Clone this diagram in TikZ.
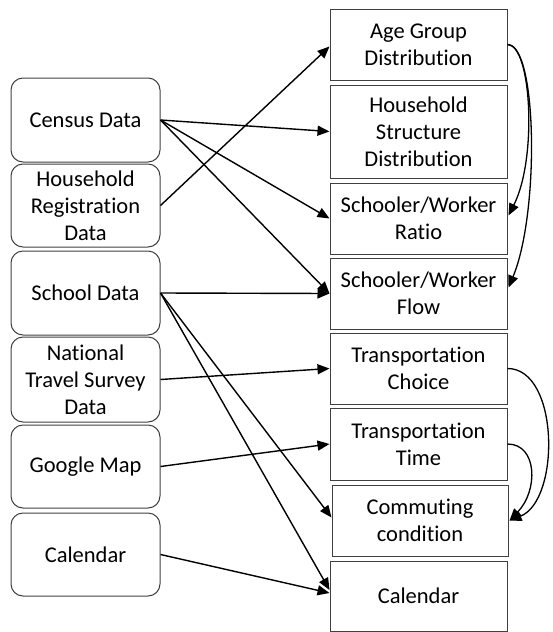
\documentclass[tikz,border=0pt]{standalone}
\usepackage{fontspec}
\setmainfont[Ligatures=NoCommon]{Carlito}
\usetikzlibrary{arrows.meta,calc}
\begin{document}
\begin{tikzpicture}[x=1pt,y=-1pt,
  every node/.style={font=\fontsize{22.5}{27}\selectfont, align=center, inner sep=0pt},
  srcbox/.style={draw=black!75, line width=1pt, rounded corners=12pt, minimum width=149pt},
  tgtbox/.style={draw=black!75, line width=1pt, minimum width=177pt},
  arr/.style={-{Triangle[length=12pt,width=10pt]}, line width=1.4pt, black},
  carr/.style={-{Triangle[length=12pt,width=10pt]}, line width=1.3pt, black}]
\useasboundingbox (0,0) rectangle (553,632);
% left sources
\node[srcbox, minimum height=84pt] (census) at (85.5,120) {Census Data};
\node[srcbox, minimum height=83pt] (hreg) at (85.5,205.5) {Household\\Registration\\Data};
\node[srcbox, minimum height=84pt] (school) at (85.5,293) {School Data};
\node[srcbox, minimum height=85pt] (nts) at (85.5,379.5) {National\\Travel Survey\\Data};
\node[srcbox, minimum height=83pt] (google) at (85.5,466.5) {Google Map};
\node[srcbox, minimum height=83pt] (calL) at (85.5,554.5) {Calendar};
% right targets
\node[tgtbox, minimum height=71pt] (age) at (418.5,44.5) {Age Group\\Distribution};
\node[tgtbox, minimum height=93pt] (hstruct) at (418.5,131.5) {Household\\Structure\\Distribution};
\node[tgtbox, minimum height=71pt] (ratio) at (418.5,218.5) {Schooler/Worker\\Ratio};
\node[tgtbox, minimum height=71pt] (flow) at (418.5,293.5) {Schooler/Worker\\Flow};
\node[tgtbox, minimum height=71pt] (choice) at (418.5,368.5) {Transportation\\Choice};
\node[tgtbox, minimum height=72pt] (ttime) at (418.5,444) {Transportation\\Time};
\node[tgtbox, minimum height=71pt, minimum width=176pt] (commute) at (420,520.5) {Commuting\\condition};
\node[tgtbox, minimum height=70pt] (calR) at (418.5,596) {Calendar};
% straight connectors
\draw[arr] (census.east) -- (hstruct.west);
\draw[arr] (census.east) -- (ratio.west);
\draw[arr] (census.east) -- (flow.west);
\draw[arr] (hreg.east) -- ($(age.west)+(0,2)$);
\draw[arr] (school.east) -- (flow.west);
\draw[arr] (school.east) -- ($(commute.west)+(0,-3)$);
\draw[arr] (school.east) -- ($(calR.west)+(0,-6)$);
\draw[arr] (nts.east) -- (choice.west);
\draw[arr] (google.east) -- (ttime.west);
\draw[arr] (calL.east) -- ($(calR.west)+(0,-3)$);
% curved connectors
\draw[carr] (age.east) .. controls ($(age.east)+(24,0)$) and ($(ratio.east)+(30,-60)$) .. ($(ratio.east)+(1,-3)$);
\draw[carr] (age.east) .. controls ($(age.east)+(30,0)$) and ($(flow.east)+(32,-80)$) .. ($(flow.east)+(1,-6)$);
\draw[carr] (choice.east) .. controls ($(choice.east)+(52,0)$) and ($(commute.east)+(52,-20)$) .. ($(commute.east)+(1,0)$);
\draw[carr] (ttime.east) .. controls ($(ttime.east)+(30,0)$) and ($(commute.east)+(30,-30)$) .. ($(commute.east)+(1,0)$);
\end{tikzpicture}
\end{document}
